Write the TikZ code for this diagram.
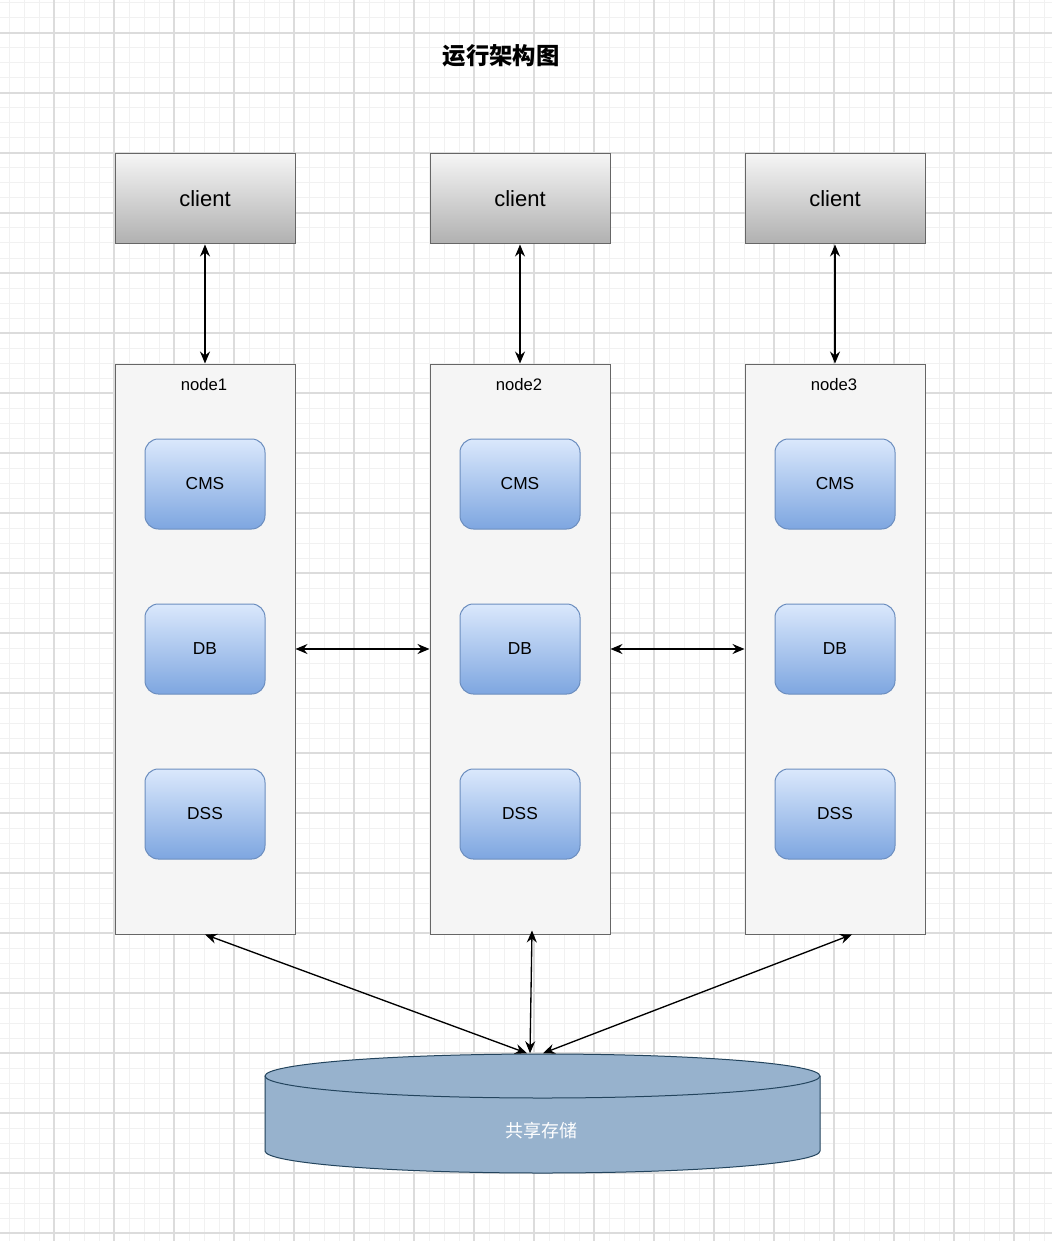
\documentclass[tikz,border=0pt]{standalone}
\usepackage{fontspec}
\setmainfont{Liberation Sans}
\newfontfamily\cjk{Noto Sans CJK SC}
\usetikzlibrary{arrows.meta,calc}
\definecolor{gridmajor}{RGB}{220,220,220}
\definecolor{gridminor}{RGB}{241,241,241}
\definecolor{edgegray}{RGB}{102,102,102}
\definecolor{clienttop}{RGB}{245,245,245}
\definecolor{clientbot}{RGB}{176,176,176}
\definecolor{boxfill}{RGB}{245,245,245}
\definecolor{svctop}{RGB}{218,232,252}
\definecolor{svcbot}{RGB}{126,166,224}
\definecolor{svcedge}{RGB}{108,142,191}
\definecolor{stfill}{RGB}{151,178,205}
\definecolor{stedge}{RGB}{35,68,93}
\begin{document}
\begin{tikzpicture}[x=0.75pt,y=0.75pt,
  minorline/.style={gridminor,line width=0.75pt},
  majorline/.style={gridmajor,line width=0.9pt},
  clientbox/.style={draw=edgegray,line width=0.75pt,top color=clienttop,bottom color=clientbot,
    minimum width=135pt,minimum height=67.5pt,inner sep=0pt,font=\fontsize{16.5}{19}\selectfont},
  hostbox/.style={draw=edgegray,line width=0.75pt,fill=boxfill,minimum width=135pt,minimum height=427.5pt,inner sep=0pt},
  hostlabel/.style={font=\fontsize{12.5}{15}\selectfont,inner sep=0pt},
  svcbox/.style={draw=svcedge,line width=0.75pt,rounded corners=10pt,top color=svctop,bottom color=svcbot,
    minimum width=90pt,minimum height=67.5pt,inner sep=0pt,font=\fontsize{13}{15}\selectfont},
  conn/.style={line width=1pt,{Stealth[length=9pt,width=7.5pt,inset=3pt]}-{Stealth[length=9pt,width=7.5pt,inset=3pt]}}
]
\useasboundingbox (0,0) rectangle (1052,-1241);
\fill[white] (0,0) rectangle (1052,-1241);
% grid
\foreach \x in {9,24,...,1052} \draw[minorline] (\x,0) -- (\x,-1241);
\foreach \y in {3,18,...,1241} \draw[minorline] (0,-\y) -- (1052,-\y);
\foreach \x in {54,114,...,1052} \draw[majorline] (\x,0) -- (\x,-1241);
\foreach \y in {33,93,...,1241} \draw[majorline] (0,-\y) -- (1052,-\y);

% title
\node (title) at (501,-56) {\cjk\bfseries\fontsize{17.5}{20}\selectfont 运行架构图};

% clients
\node[clientbox] (c1) at (205,-199) {client};
\node[clientbox] (c2) at (520,-199) {client};
\node[clientbox] (c3) at (835,-199) {client};

% hosts
\node[hostbox] (n1) at (205,-649) {};
\node[hostbox] (n2) at (520,-649) {};
\node[hostbox] (n3) at (835,-649) {};
\node[hostlabel] (l1) at (204,-385) {node1};
\node[hostlabel] (l2) at (519,-385) {node2};
\node[hostlabel] (l3) at (834,-385) {node3};

% services
\node[svcbox] (cms1) at (205,-484) {CMS};
\node[svcbox] (db1)  at (205,-649) {DB};
\node[svcbox] (dss1) at (205,-814) {DSS};
\node[svcbox] (cms2) at (520,-484) {CMS};
\node[svcbox] (db2)  at (520,-649) {DB};
\node[svcbox] (dss2) at (520,-814) {DSS};
\node[svcbox] (cms3) at (835,-484) {CMS};
\node[svcbox] (db3)  at (835,-649) {DB};
\node[svcbox] (dss3) at (835,-814) {DSS};

% shared storage cylinder
\filldraw[fill=stfill,draw=stedge,line width=0.75pt]
  (265,-1076) -- (265,-1151) arc[start angle=180,end angle=360,x radius=277.5,y radius=22]
  -- (820,-1076) arc[start angle=0,end angle=180,x radius=277.5,y radius=22] -- cycle;
\draw[stedge,line width=0.75pt] (265,-1076) arc[start angle=180,end angle=360,x radius=277.5,y radius=22];
\node[minimum width=416.25pt,minimum height=90pt,inner sep=0pt] (st) at (542.5,-1113.5) {};
\node[text=white,font=\cjk\fontsize{13.5}{16}\selectfont,inner sep=0pt] (stlabel) at (541,-1131) {共享存储};

% connectors
\draw[conn] (c1.south) -- (n1.north);
\draw[conn] (c2.south) -- (n2.north);
\draw[conn] (c3.south) -- (n3.north);
\draw[conn] (n1.east) -- (n2.west);
\draw[conn] (n2.east) -- (n3.west);
\draw[conn] (n1.south) -- ($(st.north)+(-15.5,0)$);
\draw[conn] ($(n2.south)+(12,4)$) -- ($(st.north)+(-12.5,0)$);
\draw[conn] ($(n3.south)+(17,0)$) -- ($(st.north)+(0.5,0)$);
\end{tikzpicture}
\end{document}
